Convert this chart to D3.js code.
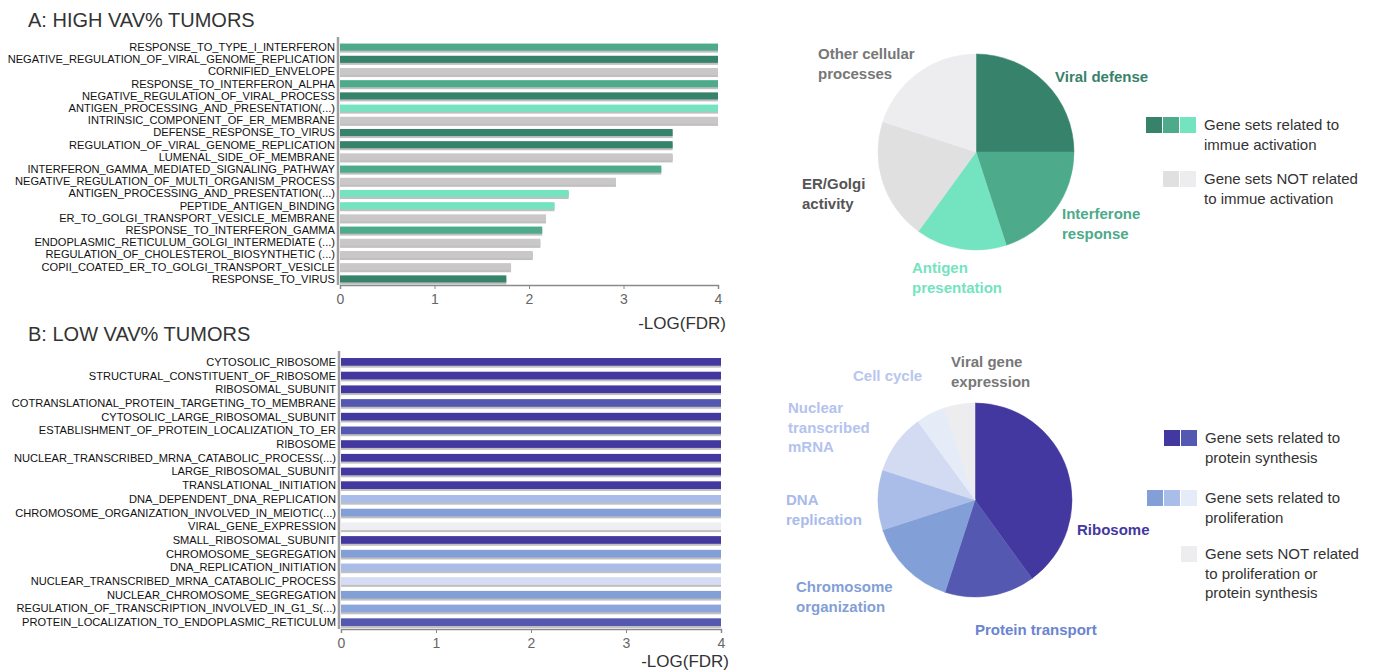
<!DOCTYPE html>
<html><head><meta charset="utf-8">
<script src="https://cdn.jsdelivr.net/npm/d3@7"></script>
<style>body{margin:0;background:#fff}</style></head>
<body><svg id="c" width="1373" height="670"></svg>
<script>
// ---------- DATA ----------
const labelsA = ["RESPONSE_TO_TYPE_I_INTERFERON","NEGATIVE_REGULATION_OF_VIRAL_GENOME_REPLICATION","CORNIFIED_ENVELOPE","RESPONSE_TO_INTERFERON_ALPHA","NEGATIVE_REGULATION_OF_VIRAL_PROCESS","ANTIGEN_PROCESSING_AND_PRESENTATION(...)","INTRINSIC_COMPONENT_OF_ER_MEMBRANE","DEFENSE_RESPONSE_TO_VIRUS","REGULATION_OF_VIRAL_GENOME_REPLICATION","LUMENAL_SIDE_OF_MEMBRANE","INTERFERON_GAMMA_MEDIATED_SIGNALING_PATHWAY","NEGATIVE_REGULATION_OF_MULTI_ORGANISM_PROCESS","ANTIGEN_PROCESSING_AND_PRESENTATION(...) ","PEPTIDE_ANTIGEN_BINDING","ER_TO_GOLGI_TRANSPORT_VESICLE_MEMBRANE","RESPONSE_TO_INTERFERON_GAMMA","ENDOPLASMIC_RETICULUM_GOLGI_INTERMEDIATE (...)","REGULATION_OF_CHOLESTEROL_BIOSYNTHETIC (...)","COPII_COATED_ER_TO_GOLGI_TRANSPORT_VESICLE","RESPONSE_TO_VIRUS"];
const valuesA = [4,4,4,4,4,4,4,3.52,3.52,3.52,3.40,2.92,2.42,2.27,2.18,2.14,2.12,2.04,1.81,1.76];
const groupsA = ["ifn","viral","other","ifn","viral","antigen","other","viral","viral","other","ifn","other","antigen","antigen","other","ifn","other","other","other","viral"];

const labelsB = ["CYTOSOLIC_RIBOSOME","STRUCTURAL_CONSTITUENT_OF_RIBOSOME","RIBOSOMAL_SUBUNIT","COTRANSLATIONAL_PROTEIN_TARGETING_TO_MEMBRANE","CYTOSOLIC_LARGE_RIBOSOMAL_SUBUNIT","ESTABLISHMENT_OF_PROTEIN_LOCALIZATION_TO_ER","RIBOSOME","NUCLEAR_TRANSCRIBED_MRNA_CATABOLIC_PROCESS(...)","LARGE_RIBOSOMAL_SUBUNIT","TRANSLATIONAL_INITIATION","DNA_DEPENDENT_DNA_REPLICATION","CHROMOSOME_ORGANIZATION_INVOLVED_IN_MEIOTIC(...)","VIRAL_GENE_EXPRESSION","SMALL_RIBOSOMAL_SUBUNIT","CHROMOSOME_SEGREGATION","DNA_REPLICATION_INITIATION","NUCLEAR_TRANSCRIBED_MRNA_CATABOLIC_PROCESS","NUCLEAR_CHROMOSOME_SEGREGATION","REGULATION_OF_TRANSCRIPTION_INVOLVED_IN_G1_S(...)","PROTEIN_LOCALIZATION_TO_ENDOPLASMIC_RETICULUM"];
const valuesB = [4,4,4,4,4,4,4,4,4,4,4,4,4,4,4,4,4,4,4,4];
const groupsB = ["ribo","ribo","ribo","transport","ribo","transport","ribo","ribo","ribo","ribo","dna","chrom","viralgene","ribo","chrom","dna","mrna","chrom","cellcycle","transport"];

const ticks = [0,1,2,3,4];

const pieLabelsA = ["Viral defense","Interferone response","Antigen presentation","ER/Golgi activity","Other cellular processes"];
const pieKeysA = ["viral","ifn","antigen","ergolgi","othercell"];
const pieValuesA = [5,4,3,4,4];

const pieLabelsB = ["Ribosome","Protein transport","Chromosome organization","DNA replication","Nuclear transcribed mRNA","Cell cycle","Viral gene expression"];
const pieKeysB = ["ribo","transport","chrom","dna","mrna","cellcycle","viralgene"];
const pieValuesB = [8,3,3,2,2,1,1];

// ---------- STYLE ----------
const barColor = {ifn:"#4daa8a",viral:"#37826a",antigen:"#74e3c0",other:"#c9c7c7",
  ribo:"#43389f",transport:"#5558b0",chrom:"#839fd7",dna:"#aabde8",mrna:"#d5dcf3",cellcycle:"#8ca6dc",viralgene:"#eeeff2"};
const pieColor = {viral:"#37826a",ifn:"#4daa8a",antigen:"#74e3c0",ergolgi:"#e0e0e0",othercell:"#ededef",
  ribo:"#43389f",transport:"#5558b0",chrom:"#839fd7",dna:"#aabde8",mrna:"#d3dbf3",cellcycle:"#e6ebf8",viralgene:"#ededef"};
const pieTextColor = {viral:"#37826a",ifn:"#4daa8a",antigen:"#74e3c0",ergolgi:"#555",othercell:"#777",
  ribo:"#43389f",transport:"#6a84d2",chrom:"#839fd7",dna:"#a9bbea",mrna:"#b3c3ee",cellcycle:"#b8c6ee",viralgene:"#777"};

const SANS = "'Liberation Sans',Arial,sans-serif";

const svg = d3.select("#c");

function barChart(cfg){
  const g = svg.append("g");
  const x = d3.scaleLinear().domain([0,4]).range([cfg.x0, cfg.x1]);
  const y = d3.scaleBand().domain(cfg.labels).range([cfg.y0, cfg.y1]).paddingInner(cfg.pad).paddingOuter(cfg.pad/2);
  g.append("text").attr("x",cfg.titleX).attr("y",cfg.titleY).text(cfg.title)
    .attr("font-family",SANS).attr("font-size",20).attr("fill","#333");
  const data = cfg.labels.map((l,i)=>({l, v:cfg.values[i], grp:cfg.groups[i]}));
  g.selectAll(".sh").data(data).join("rect")
    .attr("x",x(0)).attr("y",d=>y(d.l)+2).attr("width",d=>x(d.v)-x(0)).attr("height",y.bandwidth())
    .attr("fill","#8c8c8c").attr("opacity",0.55);
  g.selectAll(".bar").data(data).join("rect")
    .attr("x",x(0)).attr("y",d=>y(d.l)).attr("width",d=>x(d.v)-x(0)).attr("height",y.bandwidth())
    .attr("fill",d=>barColor[d.grp]);
  g.selectAll(".lb").data(data).join("text")
    .attr("x",cfg.x0-5).attr("y",d=>y(d.l)+y.bandwidth()/2).attr("dy","0.36em")
    .attr("text-anchor","end").attr("font-family",SANS).attr("font-size",cfg.fs).attr("fill","#111")
    .text(d=>d.l.trim());
  g.append("line").attr("x1",cfg.x0-2).attr("x2",cfg.x0-2).attr("y1",cfg.y0-4).attr("y2",cfg.y1)
    .attr("stroke","#a0a0a0").attr("stroke-width",2.5);
  const ax = g.append("g").attr("transform",`translate(0,${cfg.y1})`)
    .call(d3.axisBottom(x).tickValues(ticks).tickSize(4).tickPadding(5).tickFormat(d3.format("d")));
  ax.select(".domain").attr("stroke","#8a8a8a").attr("stroke-width",1.5);
  ax.selectAll(".tick line").attr("stroke","#8a8a8a");
  ax.selectAll("text").attr("font-family",SANS).attr("font-size",14).attr("fill","#666");
  g.append("text").attr("x",cfg.x1+8).attr("y",cfg.y1+cfg.xlabOff).attr("text-anchor","end")
    .attr("font-family",SANS).attr("font-size",17).attr("fill","#333").text("-LOG(FDR)");
}

barChart({labels:labelsA,values:valuesA,groups:groupsA,x0:340,x1:718,y0:41,y1:285,pad:0.42,fs:11.1,xlabOff:44,
  title:"A: HIGH VAV% TUMORS",titleX:28,titleY:27});
barChart({labels:labelsB,values:valuesB,groups:groupsB,x0:341,x1:721,y0:355,y1:629,pad:0.44,fs:11.1,xlabOff:38,
  title:"B: LOW VAV% TUMORS",titleX:28,titleY:341});

function pieChart(cfg){
  const g = svg.append("g").attr("transform",`translate(${cfg.cx},${cfg.cy})`);
  const pie = d3.pie().sort(null).value(d=>d.v);
  const arc = d3.arc().innerRadius(0).outerRadius(cfg.r);
  const data = cfg.keys.map((k,i)=>({k, v:cfg.values[i], label:cfg.labels[i]}));
  g.selectAll("path").data(pie(data)).join("path").attr("d",arc)
    .attr("fill",d=>pieColor[d.data.k]).attr("stroke",d=>pieColor[d.data.k]).attr("stroke-width",0.5);
  cfg.labelPos.forEach((p,i)=>{
    const t = svg.append("text").attr("x",p[0]).attr("y",p[1])
      .attr("font-family",SANS).attr("font-weight","bold").attr("font-size",15)
      .attr("fill",pieTextColor[cfg.keys[i]]);
    p[2].forEach((line,j)=>t.append("tspan").attr("x",p[0]).attr("dy",j?19.5:0).text(line));
  });
}

pieChart({cx:976,cy:152,r:98,keys:pieKeysA,values:pieValuesA,labels:pieLabelsA,
  labelPos:[[1055,82,["Viral defense"]],[1062,219,["Interferone","response"]],[912,273,["Antigen","presentation"]],
            [802,189,["ER/Golgi","activity"]],[818,59,["Other cellular","processes"]]]});
pieChart({cx:975,cy:500,r:97,keys:pieKeysB,values:pieValuesB,labels:pieLabelsB,
  labelPos:[[1077,535,["Ribosome"]],[975,635,["Protein transport"]],[796,592,["Chromosome","organization"]],
            [786,505,["DNA","replication"]],[788,413,["Nuclear","transcribed","mRNA"]],[853,381,["Cell cycle"]],
            [951,367,["Viral gene","expression"]]]});

function legend(x,y,keys,lines){
  const sw = 16;
  keys.forEach((k,i)=>{
    svg.append("rect").attr("x",x - (keys.length-i)*sw - (keys.length-1-i)*1).attr("y",y-11).attr("width",sw).attr("height",sw)
      .attr("fill",pieColor[k]);
  });
  const t = svg.append("text").attr("x",x+8).attr("y",y+2).attr("font-family",SANS).attr("font-size",15).attr("fill","#333");
  lines.forEach((l,j)=>t.append("tspan").attr("x",x+8).attr("dy",j?19.5:0).text(l));
}
legend(1196,128,["viral","ifn","antigen"],["Gene sets related to","immue activation"]);
legend(1196,182,["ergolgi","othercell"],["Gene sets NOT related","to immue activation"]);
legend(1197,441,["ribo","transport"],["Gene sets related to","protein synthesis"]);
legend(1197,501,["chrom","dna","cellcycle"],["Gene sets related to","proliferation"]);
legend(1197,557,["othercell"],["Gene sets NOT related","to proliferation or","protein synthesis"]);
</script></body></html>
